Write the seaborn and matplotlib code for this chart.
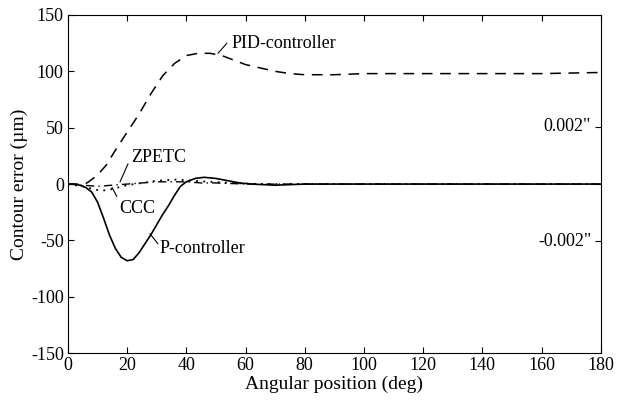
import numpy as np
import pandas as pd
import matplotlib
matplotlib.use("Agg")
import matplotlib.pyplot as plt
import seaborn as sns

# Data
pid_x = [0, 3, 5, 7, 10, 13, 16, 20, 24, 28, 32, 36, 40, 44, 48, 52, 56, 60, 65, 70, 75, 80, 90, 100, 120, 140, 160, 180]
pid_y = [0, 0, -1, 2, 8, 17, 30, 46, 62, 80, 96, 107, 114, 116, 116, 114, 110, 106, 103, 100, 98, 97, 97, 98, 98, 98, 98, 99]

p_x = [0, 2, 4, 6, 8, 10, 12, 14, 16, 18, 20, 22, 24, 26, 28, 30, 32, 34, 36, 38, 40, 43, 46, 50, 54, 58, 62, 70, 80, 100, 120, 140, 160, 180]
p_y = [0, 0, -1, -3, -7, -16, -30, -45, -57, -65, -68, -67, -61, -53, -45, -36, -27, -19, -10, -2, 2, 5, 6, 5, 3, 1, 0, -1, 0, 0, 0, 0, 0, 0]

ccc_x = [0, 5, 8, 11, 14, 17, 20, 25, 30, 37, 42, 48, 55, 65, 80, 100, 120, 140, 160, 180]
ccc_y = [0, -2, -4, -6, -5, -3, -1, 1, 3, 4, 3, 2, 1, 0, 0, 0, 0, 0, 0, 0]

zp_x = [0, 5, 10, 15, 20, 25, 30, 35, 40, 45, 50, 60, 80, 100, 120, 140, 160, 180]
zp_y = [0, -1, -2, -1, 0, 1, 2, 2, 2, 1, 1, 0, 0, 0, 0, 0, 0, 0]

x_ticks = [0, 20, 40, 60, 80, 100, 120, 140, 160, 180]
y_ticks = [-150, -100, -50, 0, 50, 100, 150]
inch_um = 50.8
right_labels = ['0.002"', '-0.002"']

sns.set_theme(style="white")
plt.rcParams['font.family'] = ['Liberation Serif', 'DejaVu Serif']
plt.rcParams['text.color'] = 'black'
plt.rcParams['axes.labelcolor'] = 'black'
plt.rcParams['xtick.color'] = 'black'
plt.rcParams['ytick.color'] = 'black'

fig = plt.figure(figsize=(6.35, 4.05), dpi=100)
ax = fig.add_axes([0.107, 0.128, 0.839, 0.835])

sns.lineplot(x=pid_x, y=pid_y, ax=ax, color='black', lw=1.1, linestyle=(0, (7, 5)))
sns.lineplot(x=p_x, y=p_y, ax=ax, color='black', lw=1.2, linestyle='-')
sns.lineplot(x=ccc_x, y=ccc_y, ax=ax, color='black', lw=1.3, linestyle=(0, (1, 3)))
sns.lineplot(x=zp_x, y=zp_y, ax=ax, color='black', lw=1.0, linestyle=(0, (6, 3, 1, 3)))

ax.set_xlim(0, 180)
ax.set_ylim(-150, 150)
ax.set_xticks(x_ticks)
ax.set_yticks(y_ticks)
ax.set_xticklabels([str(v) for v in x_ticks])
ax.set_yticklabels([str(v) for v in y_ticks])
ax.tick_params(direction='in', length=4, width=0.8, colors='black', labelsize=13,
               top=True, bottom=True, left=True, right=False, pad=3)
ax.set_xlabel('Angular position (deg)', fontsize=14, labelpad=1, color='black')
ax.set_ylabel('Contour error (µm)', fontsize=14, labelpad=2, color='black')
for s in ax.spines.values():
    s.set_visible(True)
    s.set_color('black')
    s.set_linewidth(0.8)

ax2 = ax.twinx()
ax2.set_ylim(-150, 150)
ax2.set_yticks([inch_um, 0, -inch_um])
ax2.set_yticklabels([])
ax2.tick_params(direction='in', length=4, width=0.8, colors='black')
for s in ax2.spines.values():
    s.set_visible(False)

ax.text(176.8, inch_um, right_labels[0], ha='right', va='center', fontsize=13, color='black')
ax.text(176.8, -inch_um, right_labels[1], ha='right', va='center', fontsize=13, color='black')

# Annotations with leader lines
ann = dict(fontsize=13, color='black')
ax.plot([50.7, 53.7], [116, 125], color='black', lw=0.8)
ax.text(55.2, 125, 'PID-controller', ha='left', va='center', **ann)
ax.plot([17.6, 20.3], [2, 18], color='black', lw=0.8)
ax.text(21.3, 24, 'ZPETC', ha='left', va='center', **ann)
ax.plot([14.9, 16.5], [-3, -11], color='black', lw=0.8)
ax.text(17.4, -22, 'CCC', ha='left', va='center', **ann)
ax.plot([27.7, 30.4], [-44, -53], color='black', lw=0.8)
ax.text(31, -57, 'P-controller', ha='left', va='center', **ann)

fig.savefig('out.png', dpi=100)
